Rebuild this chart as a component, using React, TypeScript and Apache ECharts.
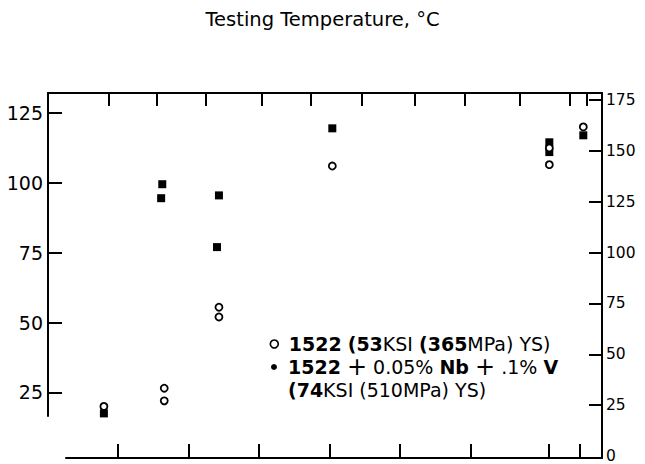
import React, { useEffect, useRef } from 'react';
import * as echarts from 'echarts';

const FONT = 'DejaVu Sans';

const titleText = 'Testing Temperature, °C';

// axis tick values
const leftTicks = [25, 50, 75, 100, 125];
const rightTicks = [0, 25, 50, 75, 100, 125, 150, 175];
const bottomTicks = [-150, -125, -100, -75, -50, -25, 2.8, 13.7];
const topTicks = [-153.2, -136.2, -118.8, -98.9, -81.6, -63.5, -44.7, -27, -7.5, 10.1, 16.3];

// series names
const openName = '1522 (53KSI (365MPa) YS)';
const filledName = '1522 + 0.05% Nb + .1% V (74KSI (510MPa) YS)';

// open circles: 1522
const openX = [-155, -133.6, -133.6, -114.2, -114.2, -74, 2.95, 2.95, 15];
const openY = [20, 26.5, 22, 55.5, 52, 106, 112.5, 106.5, 120];

// filled squares: 1522 + Nb + V
const filledX = [-155, -134.3, -134.7, -114.2, -114.9, -74, 2.95, 2.95, 15];
const filledY = [17.5, 99.5, 94.5, 95.5, 77, 119.5, 114.5, 111, 117];

// axis ranges
const xMinA = -174.82;
const xMinB = -168.44;
const xMax = 21.63;
const yLeftMin = 16.57;
const yLeftMax = 132.14;
const yRightMin = -0.98;
const yRightMax = 178.43;

const lineStyle = { color: '#000', width: 2 };

export default function App() {
  const ref = useRef<HTMLDivElement>(null);
  useEffect(() => {
    if (!ref.current) return;
    const chart = echarts.init(ref.current, null, { renderer: 'svg' });
    const richStyles = {
      b: { fontFamily: FONT, fontSize: 19, fontWeight: 'bold', color: '#000', lineHeight: 23 },
      p: { fontFamily: FONT, fontSize: 24, fontWeight: 'normal', color: '#000', lineHeight: 23 },
    };
    const option: any = {
      animation: false,
      backgroundColor: '#fff',
      title: {
        text: titleText,
        left: 'center',
        top: 9.5,
        padding: 0,
        textStyle: { fontFamily: FONT, fontSize: 19.5, fontWeight: 'normal', color: '#000' },
      },
      grid: [
        { left: 48, right: 43, top: 93, bottom: 48 },
        { left: 66, right: 43, top: 93, bottom: 5 },
      ],
      xAxis: [
        { gridIndex: 0, type: 'value', min: xMinA, max: xMax, show: false },
        {
          gridIndex: 0, type: 'value', position: 'top', min: xMinA, max: xMax,
          axisLine: { show: true, onZero: false, lineStyle },
          axisTick: { show: true, inside: true, length: 13, customValues: topTicks, lineStyle },
          axisLabel: { show: false },
          splitLine: { show: false },
        },
        {
          gridIndex: 1, type: 'value', position: 'bottom', min: xMinB, max: xMax,
          axisLine: { show: true, onZero: false, lineStyle },
          axisTick: { show: true, inside: true, length: 14, customValues: bottomTicks, lineStyle },
          axisLabel: { show: false },
          splitLine: { show: false },
        },
      ],
      yAxis: [
        {
          gridIndex: 0, type: 'value', position: 'left', min: yLeftMin, max: yLeftMax,
          axisLine: { show: true, onZero: false, lineStyle },
          axisTick: { show: true, inside: true, length: 14, customValues: leftTicks, lineStyle },
          axisLabel: { show: true, customValues: leftTicks, margin: 5, fontFamily: FONT, fontSize: 19, color: '#000' },
          splitLine: { show: false },
        },
        {
          gridIndex: 1, type: 'value', position: 'right', min: yRightMin, max: yRightMax,
          axisLine: { show: true, onZero: false, lineStyle },
          axisTick: { show: true, inside: true, length: 13, customValues: rightTicks.slice(1), lineStyle },
          axisLabel: { show: true, customValues: rightTicks, margin: 4, fontFamily: FONT, fontSize: 15.5, color: '#000' },
          splitLine: { show: false },
        },
      ],
      legend: [
        {
          data: [{ name: openName, icon: 'circle', itemStyle: { color: '#fff', borderColor: '#000', borderWidth: 1.6 } }],
          left: 269.5, top: 332.5, padding: 0, itemWidth: 8, itemHeight: 8, selectedMode: false,
          formatter: () => '{b|1522} {b|(53}KSI {b|(365}MPa) YS)',
          textStyle: { fontFamily: FONT, fontSize: 19, color: '#000', lineHeight: 23, padding: [0, 0, 0, 5.5], rich: richStyles },
        },
        {
          data: [{ name: filledName, icon: 'circle', itemStyle: { color: '#000', borderWidth: 0 } }],
          left: 271, top: 332.5, padding: 0, itemWidth: 6, itemHeight: 6, selectedMode: false,
          formatter: () => '{b|1522} {p|+} 0.05% {b|Nb} {p|+} .1% {b|V}\n{b|(74}KSI (510MPa) YS)',
          textStyle: { fontFamily: FONT, fontSize: 19, color: '#000', lineHeight: 23, padding: [23, 0, 0, 6], rich: richStyles },
        },
      ],
      series: [
        {
          name: filledName, type: 'scatter', xAxisIndex: 0, yAxisIndex: 0,
          symbol: 'rect', symbolSize: 8,
          itemStyle: { color: '#000', opacity: 1 },
          data: filledX.map((x, i) => [x, filledY[i]]),
        },
        {
          name: openName, type: 'scatter', xAxisIndex: 0, yAxisIndex: 0,
          symbol: 'circle', symbolSize: 7,
          itemStyle: { color: '#fff', borderColor: '#000', borderWidth: 1.8, opacity: 1 },
          data: openX.map((x, i) => [x, openY[i]]),
        },
      ],
    };
    chart.setOption(option);
    return () => chart.dispose();
  }, []);
  return (
    <div
      ref={ref}
      style={{ position: 'fixed', left: 0, top: 0, width: 645, height: 464, background: '#fff' }}
    />
  );
}
